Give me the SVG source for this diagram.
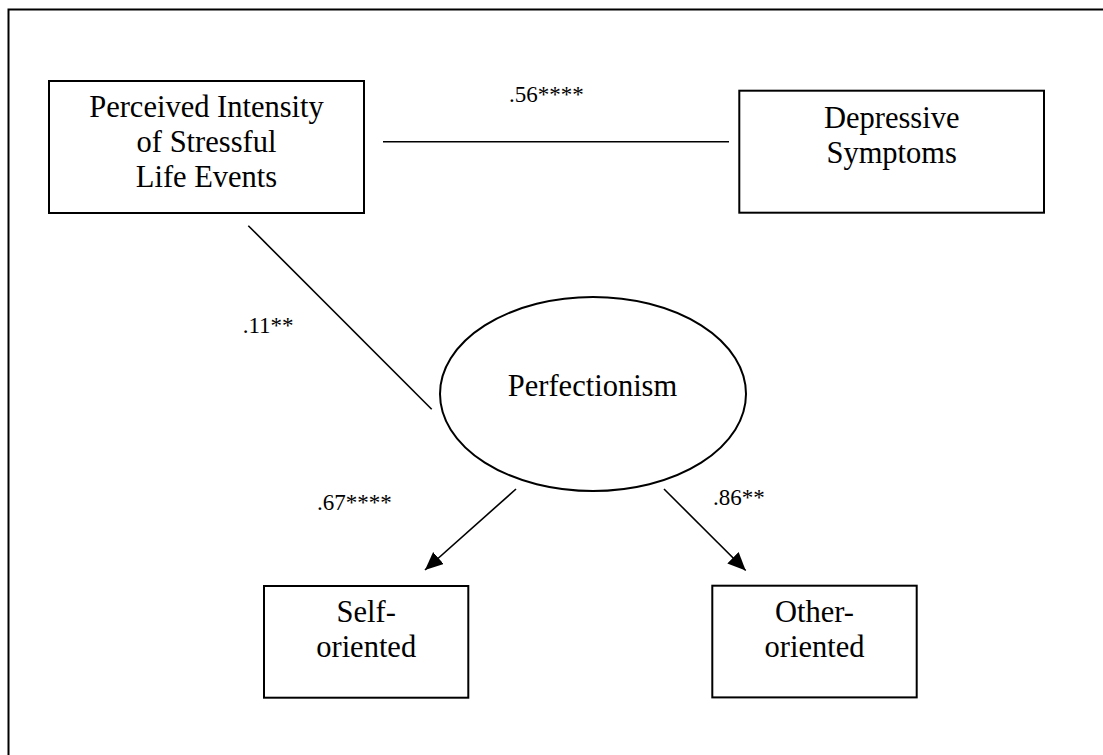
<svg xmlns="http://www.w3.org/2000/svg" width="1103" height="755" viewBox="0 0 1103 755">
  <style>
    .node { fill: #ffffff; stroke: #000000; stroke-width: 2; }
    .label { font-family: "Liberation Serif", "Times New Roman", serif; font-size: 30.5px; fill: #000000; text-anchor: middle; }
    .coef { font-family: "Liberation Serif", "Times New Roman", serif; font-size: 23px; fill: #000000; }
    .link { stroke: #000000; stroke-width: 1.6; fill: none; }
    .frame { stroke: #000000; stroke-width: 2; fill: none; }
  </style>
  <defs>
    <marker id="arrow" markerUnits="userSpaceOnUse" markerWidth="20" markerHeight="18" refX="18" refY="8" orient="auto">
      <path d="M0,0 L18,8 L0,16 Z" fill="#000000"/>
    </marker>
  </defs>

  <rect width="1103" height="755" fill="#ffffff"/>

  <!-- outer frame (runs off the right and bottom edges) -->
  <path class="frame" d="M8.5,755 L8.5,9.5 L1103,9.5"/>

  <!-- connectors -->
  <g id="connectors">
    <line class="link" x1="383" y1="141.7" x2="729" y2="141.7"/>
    <line class="link" x1="248.3" y1="225.7" x2="431.7" y2="409.3"/>
    <line class="link" x1="516" y1="489" x2="425" y2="570" marker-end="url(#arrow)"/>
    <line class="link" x1="664" y1="489" x2="745.7" y2="570.5" marker-end="url(#arrow)"/>
    <text class="coef" x="509" y="101.7">.56****</text>
    <text class="coef" x="242.7" y="333">.11**</text>
    <text class="coef" x="317" y="510">.67****</text>
    <text class="coef" x="713" y="505">.86**</text>
  </g>

  <g id="stress">
    <rect class="node" x="49" y="81" width="315" height="132"/>
    <text class="label" x="206.5" y="116.7">Perceived Intensity</text>
    <text class="label" x="206.5" y="151.7">of Stressful</text>
    <text class="label" x="206.5" y="187.3">Life Events</text>
  </g>

  <g id="depression">
    <rect class="node" x="739.3" y="90.7" width="304.7" height="122"/>
    <text class="label" x="891.7" y="127.7">Depressive</text>
    <text class="label" x="891.7" y="163">Symptoms</text>
  </g>

  <g id="perfectionism">
    <ellipse class="node" cx="593" cy="394" rx="153" ry="97"/>
    <text class="label" x="592.5" y="396">Perfectionism</text>
  </g>

  <g id="self-oriented">
    <rect class="node" x="264" y="586" width="204.3" height="111.7"/>
    <text class="label" x="366.2" y="621.7">Self-</text>
    <text class="label" x="366.2" y="656.7">oriented</text>
  </g>

  <g id="other-oriented">
    <rect class="node" x="712.3" y="585.7" width="204.4" height="111.7"/>
    <text class="label" x="814.5" y="621.7">Other-</text>
    <text class="label" x="814.5" y="657">oriented</text>
  </g>
</svg>
